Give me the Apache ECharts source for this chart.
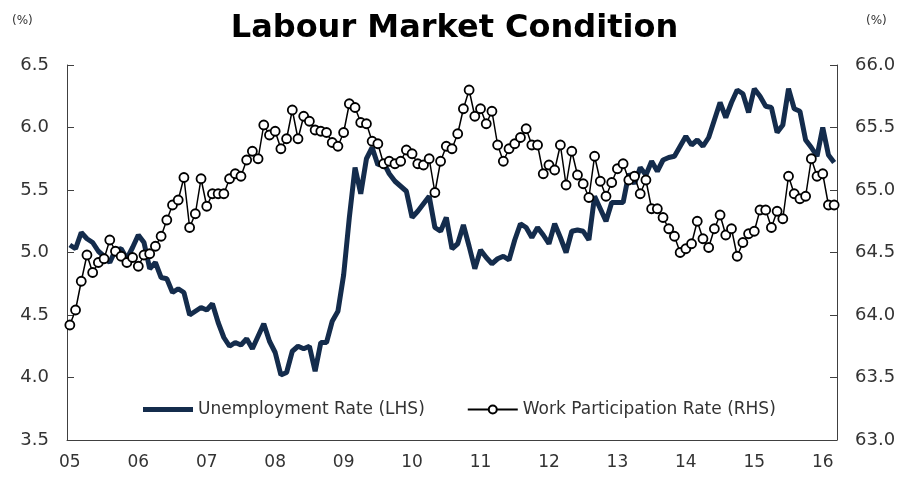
<!DOCTYPE html>
<html>
<head>
<meta charset="utf-8">
<script src="https://cdn.jsdelivr.net/npm/echarts@6/dist/echarts.min.js"></script>
<style>
  html, body { margin: 0; padding: 0; background: #fff; }
  #container { width: 909px; height: 478px; }
</style>
</head>
<body>
<div id="container"></div>
<script>
// monthly, Jan 2005 - Mar 2016
let months = [];
for (let y = 2005; y <= 2016; y++) {
    for (let m = 1; m <= 12; m++) {
        if (y === 2016 && m > 3) break;
        months.push(y + '-' + (m < 10 ? '0' + m : m));
    }
}

// Unemployment Rate (LHS, %)
let unemployment = [
    5.06, 5.03, 5.16, 5.11, 5.08, 5.01, 4.97, 4.92, 5.02, 5.03, 4.95, 5.04,
    5.14, 5.08, 4.87, 4.92, 4.80, 4.79, 4.68, 4.71, 4.68, 4.50, 4.53, 4.56,
    4.54, 4.59, 4.44, 4.32, 4.25, 4.28, 4.26, 4.31, 4.23, 4.33, 4.43, 4.29,
    4.20, 4.02, 4.04, 4.21, 4.25, 4.23, 4.25, 4.05, 4.28, 4.28, 4.45, 4.53,
    4.82, 5.28, 5.68, 5.47, 5.75, 5.84, 5.70, 5.72, 5.63, 5.57, 5.53, 5.49,
    5.28, 5.33, 5.39, 5.45, 5.20, 5.17, 5.28, 5.03, 5.07, 5.22, 5.05, 4.87,
    5.02, 4.96, 4.91, 4.95, 4.97, 4.94, 5.10, 5.23, 5.20, 5.12, 5.20, 5.14,
    5.07, 5.23, 5.12, 5.00, 5.17, 5.18, 5.17, 5.10, 5.45, 5.35, 5.25, 5.40,
    5.40, 5.40, 5.63, 5.55, 5.68, 5.62, 5.73, 5.65, 5.74, 5.76, 5.77, 5.85,
    5.93, 5.86, 5.90, 5.85, 5.92, 6.06, 6.20, 6.08, 6.20, 6.30, 6.27, 6.12,
    6.31, 6.25, 6.17, 6.16, 5.96, 6.02, 6.31, 6.15, 6.13, 5.90, 5.84, 5.77,
    6.00, 5.78, 5.72
];

// Work Participation Rate (RHS, %)
let participation = [
    63.92, 64.04, 64.27, 64.48, 64.34, 64.42, 64.45, 64.60, 64.51, 64.47, 64.42, 64.46,
    64.39, 64.48, 64.49, 64.55, 64.63, 64.76, 64.88, 64.92, 65.10, 64.70, 64.81, 65.09,
    64.87, 64.97, 64.97, 64.97, 65.09, 65.13, 65.11, 65.24, 65.31, 65.25, 65.52, 65.44,
    65.47, 65.33, 65.41, 65.64, 65.41, 65.59, 65.55, 65.48, 65.47, 65.46, 65.38, 65.35,
    65.46, 65.69, 65.66, 65.54, 65.53, 65.39, 65.37, 65.21, 65.23, 65.21, 65.23, 65.32,
    65.29, 65.21, 65.20, 65.25, 64.98, 65.23, 65.35, 65.33, 65.45, 65.65, 65.80, 65.59,
    65.65, 65.53, 65.63, 65.36, 65.23, 65.33, 65.37, 65.42, 65.49, 65.36, 65.36, 65.13,
    65.20, 65.16, 65.36, 65.04, 65.31, 65.12, 65.05, 64.94, 65.27, 65.07, 64.95, 65.06,
    65.17, 65.21, 65.08, 65.11, 64.97, 65.08, 64.85, 64.85, 64.78, 64.69, 64.63, 64.50,
    64.53, 64.57, 64.75, 64.61, 64.54, 64.69, 64.80, 64.64, 64.69, 64.47, 64.58, 64.65,
    64.67, 64.84, 64.84, 64.70, 64.83, 64.77, 65.11, 64.97, 64.93, 64.95, 65.25, 65.11,
    65.13, 64.88, 64.88
];

let axisColor = '#404040';
let labelFont = 'DejaVu Sans';

let dom = document.getElementById('container');
let myChart = echarts.init(dom);

let option = {
    animation: false,
    title: {
        text: 'Labour Market Condition',
        left: 'center',
        top: 8,
        textStyle: { fontFamily: labelFont, fontWeight: 'bold', fontSize: 32, color: '#000' }
    },
    graphic: [
        { type: 'text', left: 12, top: 15, style: { text: '(%)', font: '12px "DejaVu Sans"', fill: '#333' } },
        { type: 'text', left: 866, top: 15, style: { text: '(%)', font: '12px "DejaVu Sans"', fill: '#333' } }
    ],
    legend: {
        left: 138,
        top: 396,
        itemGap: 42,
        itemWidth: 50,
        itemHeight: 10,
        textStyle: { fontFamily: labelFont, fontSize: 17, color: '#333' },
        data: [
            { name: 'Unemployment Rate (LHS)', icon: 'path://M0,0h50v5h-50z' },
            { name: 'Work Participation Rate (RHS)' }
        ]
    },
    grid: { left: 67, right: 72, top: 65, bottom: 38 },
    xAxis: {
        type: 'category',
        data: months,
        boundaryGap: true,
        axisLine: { lineStyle: { color: axisColor, width: 1 } },
        axisTick: { inside: true, length: 7, interval: 11, lineStyle: { color: axisColor } },
        axisLabel: {
            interval: 11,
            margin: 14,
            fontFamily: labelFont,
            fontSize: 17,
            color: '#333',
            formatter: function (v) { return v.slice(2, 4); }
        },
        splitLine: { show: false }
    },
    yAxis: [
        {
            type: 'value',
            min: 3.5, max: 6.5, interval: 0.5,
            axisLine: { show: true, lineStyle: { color: axisColor } },
            axisTick: { show: true, inside: true, length: 7, lineStyle: { color: axisColor } },
            axisLabel: {
                margin: 18, fontFamily: labelFont, fontSize: 18, color: '#333',
                formatter: function (v) { return v.toFixed(1); }
            },
            splitLine: { show: false }
        },
        {
            type: 'value',
            min: 63, max: 66, interval: 0.5,
            axisLine: { show: true, lineStyle: { color: axisColor } },
            axisTick: { show: true, inside: true, length: 7, lineStyle: { color: axisColor } },
            axisLabel: {
                margin: 18, fontFamily: labelFont, fontSize: 18, color: '#333',
                formatter: function (v) { return v.toFixed(1); }
            },
            splitLine: { show: false }
        }
    ],
    series: [
        {
            name: 'Unemployment Rate (LHS)',
            type: 'line',
            yAxisIndex: 0,
            data: unemployment,
            symbol: 'none',
            lineStyle: { color: '#142c4c', width: 5 },
            itemStyle: { color: '#142c4c' },
            z: 2
        },
        {
            name: 'Work Participation Rate (RHS)',
            type: 'line',
            yAxisIndex: 1,
            data: participation,
            symbol: 'circle',
            symbolSize: 9,
            showAllSymbol: true,
            lineStyle: { color: '#000', width: 1.5 },
            itemStyle: { color: '#fff', borderColor: '#000', borderWidth: 1.8 },
            z: 3
        }
    ]
};

myChart.setOption(option, true);
</script>
</body>
</html>
